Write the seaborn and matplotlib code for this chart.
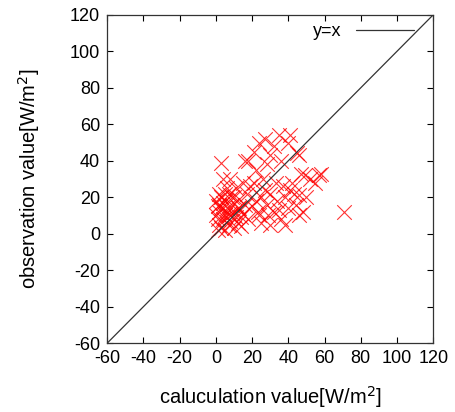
import matplotlib
matplotlib.use("Agg")
import matplotlib.pyplot as plt
import seaborn as sns

# 計算値 / 観測値 (読み取り)
calc = [3, 16, 27, 35, 41, 30, 46, 57, 49, 41, 46, 27, 16, 24, 35, 46, 5, 30, 38, 71,
        0, 1, 2, 3, 4, 5, 6, 7, 8, 9, 10, 11, 12, 13, 14, 2, 3, 6, 8, 10,
        12, 15, 17, 18, 20, 21, 22, 23, 25, 26, 28, 30, 32, 33, 34, 36, 38, 40, 42, 44,
        48, 50, 52, 21, 24, 18, 28, 32, 36, 40, 22, 4, 1, 7, 10, 14, 0, 2, 5, 8,
        45, 47, 55, 58, 15, 19, 25, 29, 37, 43, 1, 3, 6, 4, 9, 11, 2, 5, 13, 7]
obs = [39, 40, 52, 54, 54, 43, 43, 32, 32, 24, 21, 24, 16, 10, 13, 10, 2, 5, 5, 12,
       10, 15, 12, 20, 8, 18, 14, 22, 10, 16, 12, 25, 6, 19, 9, 5, 3, 25, 30, 20,
       14, 11, 22, 8, 15, 28, 18, 12, 20, 30, 16, 22, 12, 28, 18, 8, 20, 14, 28, 16,
       12, 20, 30, 45, 50, 40, 38, 48, 40, 50, 35, 30, 2, 5, 3, 4, 18, 22, 10, 7,
       44, 33, 28, 33, 28, 26, 6, 10, 26, 22, 8, 14, 12, 17, 20, 9, 16, 22, 14, 11]
ticks = [-60, -40, -20, 0, 20, 40, 60, 80, 100, 120]

sns.set_style("ticks")
plt.rcParams['font.family'] = ['Liberation Sans', 'DejaVu Sans']
plt.rcParams['axes.unicode_minus'] = False
plt.rcParams['text.color'] = 'black'
plt.rcParams['xtick.color'] = 'black'
plt.rcParams['ytick.color'] = 'black'
plt.rcParams['axes.labelcolor'] = 'black'

fig = plt.figure(figsize=(4.56, 4.12), dpi=100)
ax = fig.add_axes([0.235, 0.167, 0.715, 0.797])

sns.scatterplot(x=calc, y=obs, marker="x", s=110, color="red", linewidth=0.8,
                alpha=0.8, ax=ax, legend=False)
sns.lineplot(x=[-60, 120], y=[-60, 120], color="#333333", linewidth=0.9, ax=ax,
             label="y=x")

ax.set_xlim(-60, 120)
ax.set_ylim(-60, 120)
ax.set_xticks(ticks)
ax.set_yticks(ticks)
ax.tick_params(direction="in", top=True, right=True, labelsize=13, length=4, pad=5)
for s in ax.spines.values():
    s.set_linewidth(0.9)
    s.set_color("#333333")
ax.set_xlabel("caluculation value[W/m$^2$]", fontsize=14.5, labelpad=12)
ax.set_ylabel("observation value[W/m$^2$]", fontsize=14.5, labelpad=20)
ax.legend(loc="upper right", bbox_to_anchor=(0.99, 1.025), frameon=False,
          markerfirst=False, fontsize=13, handlelength=3.2)

fig.savefig("out.png", dpi=100)
